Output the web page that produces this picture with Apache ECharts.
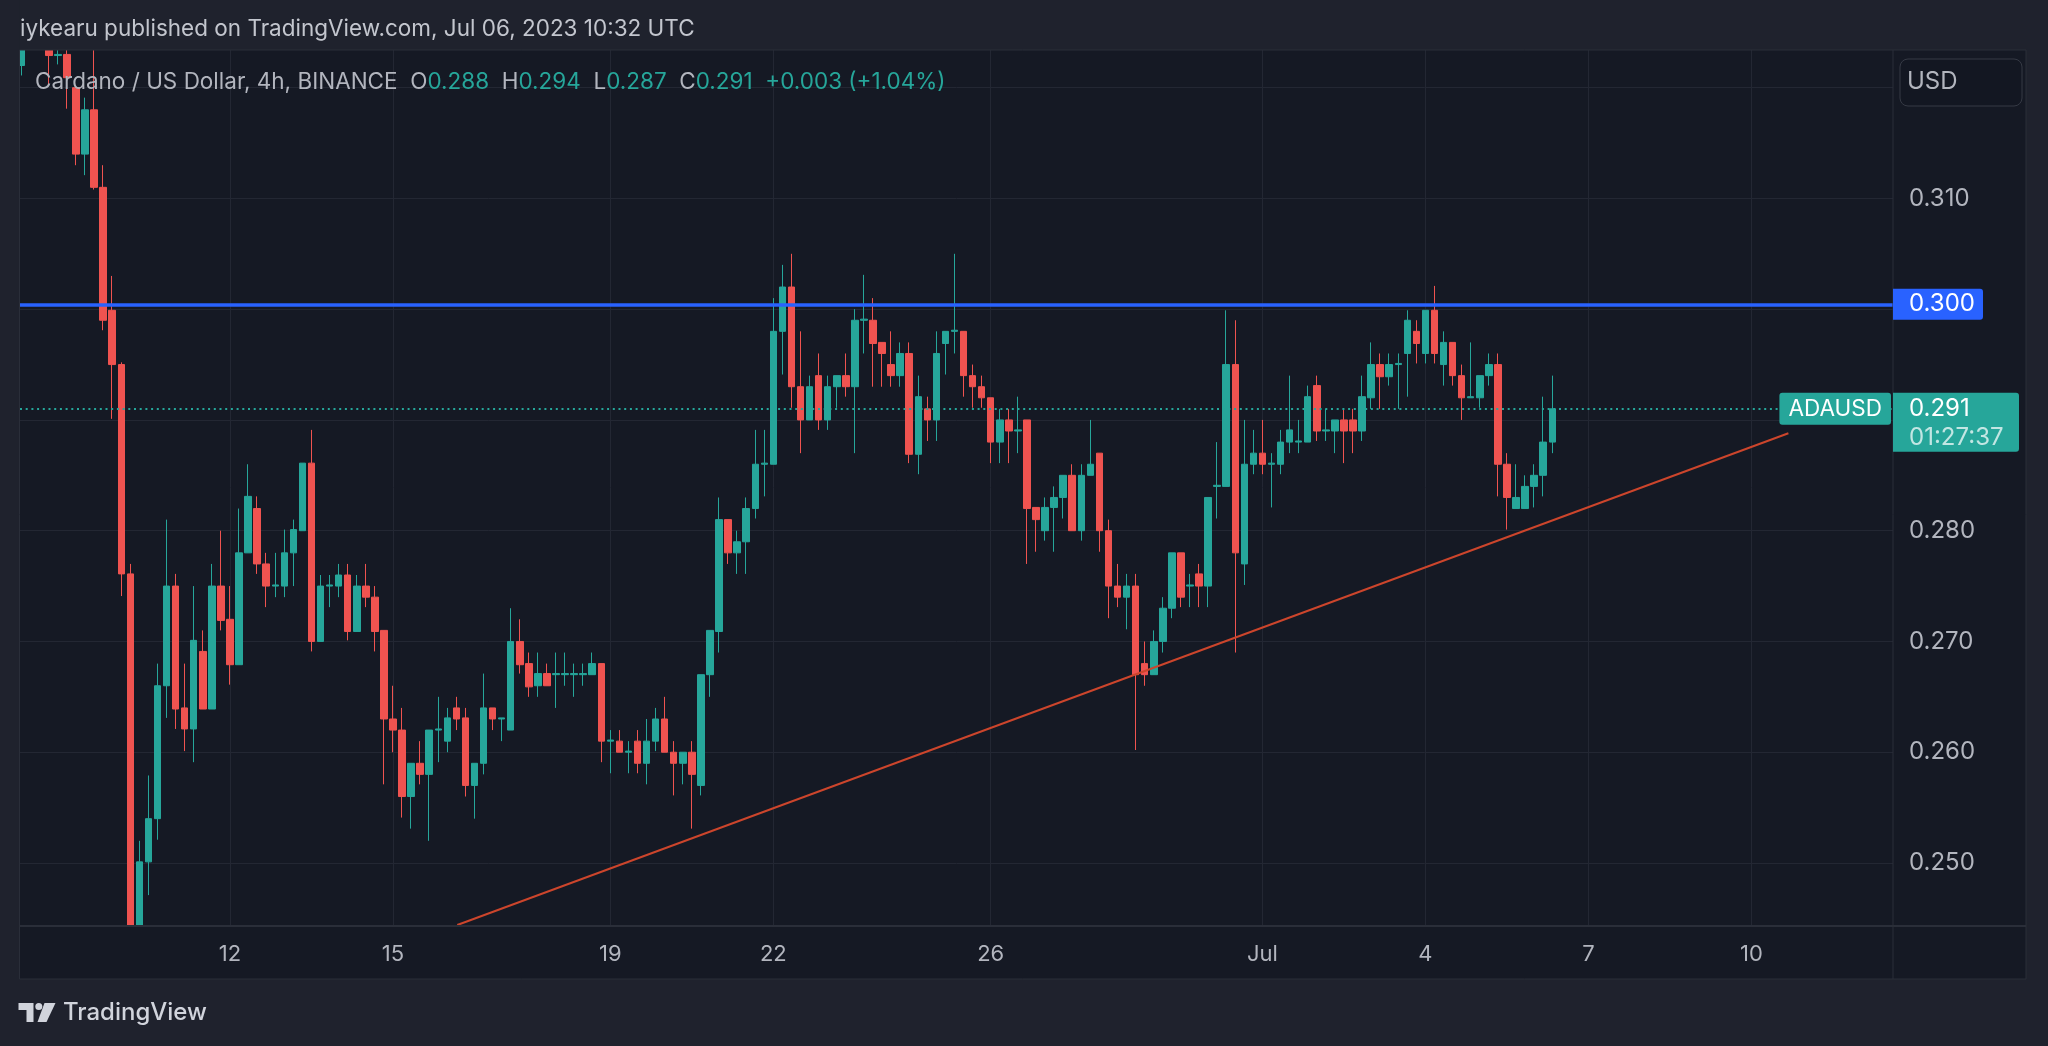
<!DOCTYPE html>
<html>
<head>
<meta charset="utf-8">
<title>ADAUSD 4h</title>
<style>
  html, body { margin: 0; padding: 0; background: #1f222d; }
  #chart { width: 2048px; height: 1046px; }
</style>
<script src="https://cdn.jsdelivr.net/npm/echarts@6/dist/echarts.min.js"></script>
</head>
<body>
<div id="chart"></div>
<script>
// 4h bars, first one Jun 8 04:00 UTC, last one Jul 6 08:00 UTC
// x is measured in days of June (Jul d -> 30 + d)
var firstBarDay = 8 + 4 / 24;
var barDays = 4 / 24;

var open = [
  0.3220, 0.3240, 0.3252, 0.3245, 0.3229, 0.3230, 0.3200, 0.3140, 0.3180, 0.3110,
  0.2999, 0.2950, 0.2761, 0.2430, 0.2501, 0.2540, 0.2660, 0.2750, 0.2640, 0.2621,
  0.2691, 0.2639, 0.2750, 0.2720, 0.2679, 0.2780, 0.2820, 0.2770, 0.2750, 0.2750,
  0.2780, 0.2800, 0.2861, 0.2700, 0.2750, 0.2750, 0.2760, 0.2709, 0.2750, 0.2740,
  0.2710, 0.2630, 0.2620, 0.2560, 0.2590, 0.2580, 0.2620, 0.2610, 0.2640, 0.2631,
  0.2570, 0.2590, 0.2640, 0.2630, 0.2620, 0.2700, 0.2680, 0.2660, 0.2671, 0.2670,
  0.2670, 0.2670, 0.2670, 0.2670, 0.2680, 0.2610, 0.2610, 0.2600, 0.2610, 0.2590,
  0.2610, 0.2630, 0.2600, 0.2590, 0.2600, 0.2570, 0.2670, 0.2709, 0.2810, 0.2780,
  0.2790, 0.2820, 0.2860, 0.2860, 0.2980, 0.3020, 0.2930, 0.2900, 0.2940, 0.2900,
  0.2930, 0.2940, 0.2930, 0.2990, 0.2990, 0.2970, 0.2950, 0.2940, 0.2960, 0.2869,
  0.2910, 0.2900, 0.2969, 0.2980, 0.2980, 0.2940, 0.2930, 0.2920, 0.2880, 0.2900,
  0.2890, 0.2900, 0.2821, 0.2800, 0.2821, 0.2830, 0.2850, 0.2800, 0.2850, 0.2870,
  0.2800, 0.2750, 0.2740, 0.2750, 0.2680, 0.2670, 0.2700, 0.2730, 0.2780, 0.2750,
  0.2761, 0.2750, 0.2840, 0.2840, 0.2950, 0.2770, 0.2860, 0.2870, 0.2860, 0.2860,
  0.2880, 0.2880, 0.2880, 0.2931, 0.2890, 0.2890, 0.2900, 0.2900, 0.2890, 0.2920,
  0.2950, 0.2939, 0.2950, 0.2960, 0.2980, 0.2960, 0.2999, 0.2950, 0.2970, 0.2940,
  0.2920, 0.2920, 0.2940, 0.2950, 0.2860, 0.2820, 0.2820, 0.2840, 0.2850, 0.2880
];
var high = [
  0.3245, 0.3260, 0.3262, 0.3250, 0.3236, 0.3238, 0.3202, 0.3191, 0.3240, 0.3130,
  0.3030, 0.2952, 0.2770, 0.2520, 0.2579, 0.2680, 0.2810, 0.2761, 0.2680, 0.2750,
  0.2710, 0.2770, 0.2800, 0.2750, 0.2820, 0.2860, 0.2831, 0.2780, 0.2780, 0.2801,
  0.2810, 0.2861, 0.2891, 0.2760, 0.2760, 0.2770, 0.2770, 0.2760, 0.2770, 0.2750,
  0.2710, 0.2660, 0.2640, 0.2590, 0.2610, 0.2620, 0.2650, 0.2640, 0.2650, 0.2640,
  0.2590, 0.2671, 0.2640, 0.2631, 0.2730, 0.2720, 0.2690, 0.2690, 0.2680, 0.2690,
  0.2690, 0.2680, 0.2680, 0.2690, 0.2680, 0.2620, 0.2620, 0.2610, 0.2620, 0.2630,
  0.2640, 0.2650, 0.2610, 0.2600, 0.2610, 0.2670, 0.2710, 0.2830, 0.2810, 0.2800,
  0.2830, 0.2891, 0.2891, 0.3010, 0.3040, 0.3050, 0.2980, 0.2940, 0.2960, 0.2940,
  0.2940, 0.2960, 0.3000, 0.3031, 0.3010, 0.2970, 0.2980, 0.2970, 0.2970, 0.2940,
  0.2921, 0.2980, 0.2980, 0.3050, 0.2980, 0.2950, 0.2940, 0.2920, 0.2910, 0.2910,
  0.2921, 0.2900, 0.2821, 0.2830, 0.2840, 0.2850, 0.2860, 0.2860, 0.2900, 0.2870,
  0.2810, 0.2770, 0.2761, 0.2761, 0.2700, 0.2710, 0.2740, 0.2780, 0.2780, 0.2761,
  0.2770, 0.2830, 0.2880, 0.2999, 0.2990, 0.2900, 0.2891, 0.2900, 0.2870, 0.2891,
  0.2940, 0.2900, 0.2931, 0.2940, 0.2910, 0.2900, 0.2910, 0.2910, 0.2940, 0.2970,
  0.2960, 0.2960, 0.2960, 0.2999, 0.2990, 0.2999, 0.3021, 0.2980, 0.2970, 0.2950,
  0.2970, 0.2940, 0.2960, 0.2960, 0.2870, 0.2860, 0.2850, 0.2860, 0.2921, 0.2940
];
var low = [
  0.3211, 0.3237, 0.3238, 0.3203, 0.3221, 0.3181, 0.3130, 0.3121, 0.3108, 0.2981,
  0.2901, 0.2741, 0.2400, 0.2415, 0.2471, 0.2521, 0.2631, 0.2621, 0.2601, 0.2591,
  0.2639, 0.2639, 0.2710, 0.2661, 0.2679, 0.2780, 0.2761, 0.2731, 0.2740, 0.2740,
  0.2750, 0.2800, 0.2691, 0.2700, 0.2731, 0.2740, 0.2701, 0.2709, 0.2731, 0.2691,
  0.2571, 0.2600, 0.2541, 0.2531, 0.2571, 0.2520, 0.2591, 0.2600, 0.2620, 0.2560,
  0.2540, 0.2580, 0.2620, 0.2610, 0.2620, 0.2671, 0.2650, 0.2650, 0.2660, 0.2640,
  0.2660, 0.2650, 0.2660, 0.2670, 0.2591, 0.2581, 0.2600, 0.2581, 0.2581, 0.2571,
  0.2601, 0.2600, 0.2561, 0.2571, 0.2531, 0.2561, 0.2650, 0.2690, 0.2770, 0.2761,
  0.2761, 0.2811, 0.2831, 0.2860, 0.2941, 0.2911, 0.2870, 0.2900, 0.2891, 0.2891,
  0.2911, 0.2921, 0.2870, 0.2960, 0.2930, 0.2930, 0.2930, 0.2930, 0.2861, 0.2851,
  0.2881, 0.2881, 0.2941, 0.2960, 0.2921, 0.2911, 0.2911, 0.2861, 0.2861, 0.2861,
  0.2870, 0.2770, 0.2781, 0.2791, 0.2781, 0.2811, 0.2800, 0.2791, 0.2850, 0.2781,
  0.2721, 0.2731, 0.2711, 0.2602, 0.2660, 0.2670, 0.2690, 0.2721, 0.2731, 0.2731,
  0.2731, 0.2731, 0.2811, 0.2840, 0.2690, 0.2751, 0.2851, 0.2851, 0.2821, 0.2851,
  0.2870, 0.2870, 0.2880, 0.2881, 0.2881, 0.2870, 0.2861, 0.2870, 0.2881, 0.2910,
  0.2910, 0.2931, 0.2910, 0.2921, 0.2951, 0.2951, 0.2951, 0.2931, 0.2931, 0.2900,
  0.2920, 0.2911, 0.2931, 0.2831, 0.2801, 0.2820, 0.2820, 0.2821, 0.2831, 0.2870
];
var close = [
  0.3240, 0.3252, 0.3245, 0.3229, 0.3230, 0.3209, 0.3140, 0.3180, 0.3110, 0.2990,
  0.2950, 0.2761, 0.2420, 0.2501, 0.2540, 0.2660, 0.2750, 0.2639, 0.2621, 0.2701,
  0.2639, 0.2750, 0.2719, 0.2679, 0.2780, 0.2831, 0.2770, 0.2750, 0.2751, 0.2780,
  0.2801, 0.2861, 0.2700, 0.2750, 0.2751, 0.2760, 0.2709, 0.2750, 0.2740, 0.2709,
  0.2630, 0.2620, 0.2560, 0.2590, 0.2580, 0.2620, 0.2621, 0.2631, 0.2630, 0.2570,
  0.2590, 0.2640, 0.2630, 0.2631, 0.2700, 0.2679, 0.2659, 0.2671, 0.2660, 0.2671,
  0.2671, 0.2671, 0.2671, 0.2680, 0.2610, 0.2611, 0.2600, 0.2601, 0.2590, 0.2610,
  0.2630, 0.2600, 0.2590, 0.2600, 0.2580, 0.2670, 0.2710, 0.2810, 0.2780, 0.2790,
  0.2820, 0.2860, 0.2861, 0.2980, 0.3020, 0.2930, 0.2900, 0.2930, 0.2900, 0.2930,
  0.2940, 0.2930, 0.2990, 0.2991, 0.2969, 0.2960, 0.2940, 0.2960, 0.2869, 0.2921,
  0.2900, 0.2960, 0.2980, 0.2981, 0.2940, 0.2930, 0.2920, 0.2880, 0.2900, 0.2890,
  0.2891, 0.2820, 0.2810, 0.2821, 0.2830, 0.2850, 0.2800, 0.2850, 0.2860, 0.2800,
  0.2750, 0.2740, 0.2750, 0.2670, 0.2670, 0.2700, 0.2730, 0.2780, 0.2740, 0.2751,
  0.2750, 0.2830, 0.2841, 0.2950, 0.2780, 0.2860, 0.2870, 0.2860, 0.2861, 0.2880,
  0.2891, 0.2881, 0.2921, 0.2890, 0.2891, 0.2900, 0.2890, 0.2890, 0.2921, 0.2950,
  0.2939, 0.2950, 0.2951, 0.2990, 0.2969, 0.2999, 0.2960, 0.2970, 0.2940, 0.2920,
  0.2921, 0.2940, 0.2950, 0.2860, 0.2830, 0.2830, 0.2840, 0.2850, 0.2880, 0.2910
];

var dayTicks = [12, 15, 19, 22, 26, 31, 34, 37, 40];
var dayLabels = ['12', '15', '19', '22', '26', 'Jul', '4', '7', '10'];
var priceTicks = [0.25, 0.26, 0.27, 0.28, 0.29, 0.30, 0.31, 0.32];

var resistance = 0.3004;
var trendStart = [16.183, 0.2444];
var trendEnd = [40.679, 0.2888];
var countdown = '01:27:37';

var UP = '#26a69a';
var DOWN = '#ef5350';
var OUTER = '#1f222d';
var PANE = '#151924';
var GRID = '#232733';
var SEP = '#2a2e39';
var TEXT = '#b2b5be';
var FONT = 'Inter, "Noto Sans", sans-serif';

var candles = open.map(function (o, k) {
  return [firstBarDay + k * barDays, o, close[k], low[k], high[k]];
});
var last = open.length - 1;
var lastPrice = +close[last].toFixed(3);

var X_MIN = 8.136, X_MAX = 42.604;

var chart = echarts.init(document.getElementById('chart'));

var option = {
  animation: false,
  backgroundColor: PANE,
  grid: { left: 20, top: 50, width: 1873, height: 875, outerBoundsMode: 'none' },
  xAxis: [{
    // grid lines only
    type: 'value', min: X_MIN, max: X_MAX,
    axisLine: { show: false },
    axisTick: { show: false, customValues: dayTicks },
    axisLabel: { show: false, customValues: dayTicks },
    splitLine: { show: true, lineStyle: { color: GRID, width: 1 } }
  }, {
    // labels, drawn above the time pane cover
    type: 'value', min: X_MIN, max: X_MAX, position: 'bottom', z: 60,
    axisLine: { show: false },
    axisTick: { show: false, customValues: dayTicks },
    axisLabel: {
      customValues: dayTicks,
      formatter: function (v) { return dayLabels[dayTicks.indexOf(v)]; },
      color: TEXT, fontSize: 22, fontFamily: FONT, margin: 18
    },
    splitLine: { show: false }
  }],
  yAxis: {
    type: 'value',
    position: 'right',
    min: 0.2444,
    max: 0.3234,
    axisLine: { show: false },
    axisTick: { show: false, customValues: priceTicks },
    axisLabel: {
      customValues: priceTicks,
      formatter: function (v) { return v.toFixed(3); },
      color: TEXT, fontSize: 24, fontFamily: FONT, margin: 16
    },
    splitLine: { show: true, lineStyle: { color: GRID, width: 1 } }
  },
  series: [{
    type: 'candlestick',
    data: candles,
    encode: { x: 0, y: [1, 2, 3, 4] },
    barWidth: 7,
    clip: true,
    itemStyle: {
      color: UP, color0: DOWN,
      borderColor: UP, borderColor0: DOWN,
      borderWidth: 1
    },
    markLine: {
      symbol: 'none',
      silent: true,
      animation: false,
      precision: 4,
      label: { show: false },
      emphasis: { disabled: true },
      data: [
        { yAxis: lastPrice, lineStyle: { color: UP, width: 1.8, type: [2, 3.7] } },
        { yAxis: resistance, lineStyle: { color: '#2962ff', width: 3.5, type: 'solid' } },
        [
          { coord: trendStart, lineStyle: { color: '#cc452c', width: 2, type: 'solid' } },
          { coord: trendEnd }
        ]
      ]
    }
  }]
};
chart.setOption(option);

// overlays placed through the axes
var axisX = chart.convertToPixel({ xAxisIndex: 0 }, X_MAX);
var paneLeft = chart.convertToPixel({ xAxisIndex: 0 }, X_MIN);
var paneBottom = chart.convertToPixel({ yAxisIndex: 0 }, 0.2444);
var yRes = chart.convertToPixel({ yAxisIndex: 0 }, resistance);
var yLast = chart.convertToPixel({ yAxisIndex: 0 }, lastPrice);
var trendEndX = chart.convertToPixel({ xAxisIndex: 0 }, trendEnd[0]);

var o = open[last], h = high[last], l = low[last], c = close[last];
var chg = c - o;
var pct = chg / o * 100;
var gap = '  ';
var legendText =
  '{g|Cardano / US Dollar, 4h, BINANCE}' + gap +
  '{g|O}{v|' + o.toFixed(3) + '}' + gap +
  '{g|H}{v|' + h.toFixed(3) + '}' + gap +
  '{g|L}{v|' + l.toFixed(3) + '}' + gap +
  '{g|C}{v|' + c.toFixed(3) + '}' + gap +
  '{v|' + (chg >= 0 ? '+' : '') + chg.toFixed(3) + ' (' + (pct >= 0 ? '+' : '') + pct.toFixed(2) + '%)}';

chart.setOption({
  graphic: [
    // outer frame and time pane cover
    { type: 'rect', z: 50, shape: { x: 0, y: 0, width: 2048, height: 50 }, style: { fill: OUTER } },
    { type: 'rect', z: 50, shape: { x: 0, y: 0, width: paneLeft - 0.5, height: 1046 }, style: { fill: OUTER } },
    { type: 'rect', z: 50, shape: { x: 2026, y: 0, width: 22, height: 1046 }, style: { fill: OUTER } },
    { type: 'rect', z: 50, shape: { x: 0, y: 979, width: 2048, height: 67 }, style: { fill: OUTER } },
    { type: 'rect', z: 50, shape: { x: paneLeft, y: paneBottom, width: 2026 - paneLeft, height: 979 - paneBottom }, style: { fill: PANE } },
    { type: 'rect', z: 51, shape: { x: paneLeft - 0.5, y: 50, width: 2026 - paneLeft + 0.5, height: 929 }, style: { fill: null, stroke: SEP, lineWidth: 1 } },
    { type: 'line', z: 51, shape: { x1: paneLeft - 0.5, y1: paneBottom + 1, x2: 2026, y2: paneBottom + 1 }, style: { stroke: SEP, lineWidth: 2 } },
    { type: 'line', z: 51, shape: { x1: axisX, y1: 50, x2: axisX, y2: 979 }, style: { stroke: SEP, lineWidth: 1 } },

    // header
    { type: 'text', z: 60, x: 20, y: 29, style: { text: 'iykearu published on TradingView.com, Jul 06, 2023 10:32 UTC', fill: '#c3c6ce', font: '22.5px ' + FONT, verticalAlign: 'middle' } },
    { type: 'text', z: 60, x: 35, y: 82, style: {
      text: legendText, verticalAlign: 'middle', font: '22.5px ' + FONT,
      rich: {
        g: { fill: TEXT, fontSize: 22.5, fontFamily: FONT },
        v: { fill: UP, fontSize: 22.5, fontFamily: FONT }
      }
    } },

    // USD box
    { type: 'rect', z: 60, shape: { x: 1900, y: 59, width: 122, height: 47, r: 8 }, style: { fill: '#131722', stroke: '#363a45', lineWidth: 1 } },
    { type: 'text', z: 61, x: 1907, y: 82, style: { text: 'USD', fill: TEXT, font: '24px ' + FONT, verticalAlign: 'middle' } },

    // resistance label
    { type: 'rect', z: 60, shape: { x: axisX, y: yRes - 16, width: 90, height: 31, r: [0, 3, 3, 0] }, style: { fill: '#2962ff' } },
    { type: 'text', z: 61, x: 1909, y: yRes - 0.5, style: { text: resistance.toFixed(3), fill: '#ffffff', font: '24px ' + FONT, verticalAlign: 'middle' } },

    // last price labels
    { type: 'rect', z: 60, shape: { x: trendEndX - 9, y: yLast - 16, width: axisX - 2 - (trendEndX - 9), height: 32, r: 3 }, style: { fill: UP } },
    { type: 'text', z: 61, x: (trendEndX - 9 + axisX - 2) / 2, y: yLast, style: { text: 'ADAUSD', fill: '#ffffff', font: '22.5px ' + FONT, align: 'center', verticalAlign: 'middle' } },
    { type: 'rect', z: 60, shape: { x: axisX, y: yLast - 16, width: 126, height: 59, r: [0, 3, 3, 0] }, style: { fill: UP } },
    { type: 'text', z: 61, x: 1909, y: yLast, style: { text: lastPrice.toFixed(3), fill: '#ffffff', font: '24px ' + FONT, verticalAlign: 'middle' } },
    { type: 'text', z: 61, x: 1909, y: yLast + 29, style: { text: countdown, fill: 'rgba(255,255,255,0.72)', font: '24px ' + FONT, verticalAlign: 'middle' } },

    // TradingView logo
    { type: 'polygon', z: 60, shape: { points: [[18.5, 1003], [33.5, 1003], [33.5, 1022], [26.5, 1022], [26.5, 1010], [18.5, 1010]] }, style: { fill: '#d1d4dc' } },
    { type: 'circle', z: 60, shape: { cx: 38.8, cy: 1006.5, r: 3.5 }, style: { fill: '#d1d4dc' } },
    { type: 'polygon', z: 60, shape: { points: [[44.5, 1003], [55.5, 1003], [46.5, 1022], [37.5, 1022]] }, style: { fill: '#d1d4dc' } },
    { type: 'text', z: 60, x: 63, y: 1013, style: { text: 'TradingView', fill: '#d1d4dc', font: '500 24px ' + FONT, verticalAlign: 'middle' } }
  ]
});
</script>
</body>
</html>
